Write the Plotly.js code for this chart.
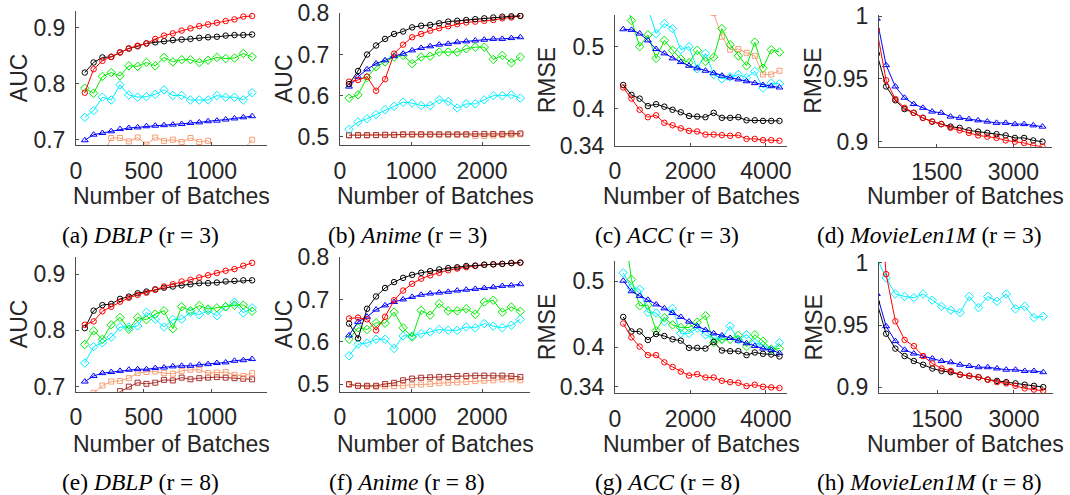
<!DOCTYPE html>
<html><head><meta charset="utf-8">
<script src="https://cdn.plot.ly/plotly-3.0.1.min.js"></script>
<style>html,body{margin:0;padding:0;background:#fff;}#chart{width:1070px;height:495px;}</style>
</head><body><div id="chart"></div>
<script>
// ---------- x values (number of batches) ----------
const xA = [65,130,195,260,325,390,455,520,585,650,715,780,845,910,975,1040,1105,1170,1235,1300];
const xB = [127,254,381,508,635,762,889,1016,1143,1270,1397,1524,1651,1778,1905,2032,2159,2286,2413,2540];
const xC = [218,436,654,872,1090,1308,1526,1744,1962,2180,2398,2616,2834,3052,3270,3488,3706,3924,4142,4360];
const xD = [329,509,689,869,1049,1229,1409,1589,1769,1949,2129,2309,2489,2669,2849,3029,3209,3389,3569];

// ---------- (a) DBLP r=3 ----------
const aRed    = [0.784,0.826,0.841,0.848,0.856,0.863,0.868,0.872,0.880,0.886,0.890,0.895,0.899,0.903,0.906,0.909,0.912,0.915,0.920,0.921];
const aBlack  = [0.820,0.838,0.847,0.848,0.856,0.863,0.867,0.872,0.874,0.876,0.878,0.879,0.880,0.882,0.883,0.884,0.886,0.887,0.887,0.888];
const aGreen  = [0.792,0.783,0.813,0.820,0.814,0.832,0.831,0.838,0.832,0.847,0.839,0.843,0.843,0.838,0.842,0.847,0.845,0.846,0.854,0.848];
const aCyan   = [0.740,0.752,0.776,0.771,0.798,0.780,0.776,0.777,0.781,0.789,0.779,0.779,0.771,0.771,0.771,0.779,0.776,0.776,0.771,0.784];
const aBlue   = [0.699,0.709,0.712,0.715,0.719,0.721,0.722,0.724,0.725,0.726,0.727,0.728,0.730,0.731,0.733,0.734,0.736,0.738,0.740,0.742];
const aOrange = [0.650,0.660,0.670,0.703,0.703,0.697,0.704,0.691,0.704,0.698,0.700,0.696,0.703,0.696,0.698,0.682,0.684,0.680,0.682,0.700];

// ---------- (b) Anime r=3 ----------
const bRed    = [0.634,0.638,0.646,0.612,0.640,0.702,0.724,0.742,0.750,0.758,0.764,0.769,0.774,0.778,0.780,0.782,0.784,0.788,0.790,0.794];
const bBlack  = [0.628,0.660,0.700,0.722,0.738,0.750,0.756,0.766,0.770,0.772,0.776,0.780,0.782,0.784,0.786,0.788,0.790,0.792,0.793,0.794];
const bGreen  = [0.594,0.602,0.644,0.670,0.682,0.694,0.698,0.678,0.694,0.696,0.706,0.706,0.706,0.714,0.718,0.718,0.688,0.698,0.680,0.694];
const bCyan   = [0.518,0.536,0.544,0.554,0.566,0.574,0.584,0.582,0.576,0.576,0.590,0.586,0.570,0.580,0.580,0.590,0.600,0.600,0.602,0.594];
const bBlue   = [0.622,0.646,0.664,0.678,0.686,0.696,0.702,0.710,0.716,0.720,0.724,0.726,0.730,0.732,0.734,0.736,0.738,0.738,0.740,0.742];
const bOrange = [0.503,0.503,0.503,0.504,0.504,0.504,0.505,0.505,0.505,0.505,0.505,0.505,0.505,0.505,0.502,0.502,0.503,0.504,0.505,0.506];
const bBrown  = [0.504,0.504,0.504,0.504,0.505,0.505,0.506,0.506,0.506,0.506,0.506,0.506,0.506,0.506,0.507,0.507,0.507,0.507,0.508,0.508];

// ---------- (c) ACC r=3 ----------
const cRed    = [0.434,0.416,0.398,0.386,0.389,0.377,0.373,0.368,0.364,0.363,0.358,0.358,0.357,0.356,0.357,0.351,0.351,0.349,0.349,0.348];
const cBlack  = [0.438,0.422,0.416,0.404,0.407,0.403,0.398,0.394,0.388,0.387,0.386,0.393,0.385,0.385,0.386,0.381,0.381,0.380,0.380,0.380];
const cGreen  = [0.587,0.542,0.500,0.519,0.481,0.510,0.494,0.480,0.474,0.494,0.476,0.483,0.529,0.503,0.485,0.469,0.507,0.465,0.495,0.491];
const cCyan   = [null,null,null,0.562,0.521,0.537,0.529,0.495,0.500,0.464,0.489,0.455,0.448,0.451,0.455,0.450,0.460,0.433,0.441,0.440];
const cBlue   = [0.528,0.527,0.521,0.510,0.496,0.489,0.481,0.475,0.469,0.465,0.461,0.457,0.453,0.450,0.447,0.444,0.441,0.438,0.436,0.434];
const cOrange = [null,null,null,null,null,null,null,null,null,null,null,0.554,0.516,0.495,0.496,0.490,0.485,0.455,0.455,0.461];

// ---------- (d) MovieLen1M r=3 ----------
const dRed    = [0.989,0.949,0.934,0.927,0.923,0.919,0.916,0.914,0.911,0.909,0.907,0.905,0.904,0.903,0.901,0.900,0.899,0.897,0.896];
const dBlack  = [0.970,0.944,0.933,0.926,0.923,0.919,0.916,0.914,0.912,0.911,0.909,0.908,0.907,0.906,0.905,0.903,0.903,0.901,0.900];
const dBlue   = [0.998,0.961,0.944,0.935,0.930,0.927,0.924,0.923,0.920,0.919,0.918,0.917,0.916,0.915,0.915,0.914,0.914,0.913,0.912];

// ---------- (e) DBLP r=8 ----------
const eRed    = [0.810,0.816,0.834,0.842,0.851,0.858,0.863,0.867,0.872,0.878,0.882,0.887,0.890,0.894,0.898,0.902,0.906,0.909,0.915,0.920];
const eBlack  = [0.804,0.835,0.845,0.847,0.856,0.860,0.866,0.869,0.873,0.876,0.878,0.880,0.882,0.884,0.884,0.885,0.887,0.888,0.889,0.889];
const eGreen  = [0.775,0.799,0.784,0.810,0.823,0.802,0.823,0.819,0.829,0.835,0.803,0.842,0.835,0.844,0.838,0.840,0.842,0.845,0.845,0.834];
const eCyan   = [0.742,0.771,0.778,0.788,0.806,0.806,0.808,0.832,0.820,0.806,0.819,0.820,0.832,0.828,0.835,0.826,0.842,0.850,0.831,0.840];
const eBlue   = [0.709,0.719,0.724,0.726,0.728,0.730,0.731,0.731,0.733,0.734,0.736,0.737,0.737,0.739,0.740,0.742,0.743,0.746,0.747,0.749];
const eOrange = [0.675,0.689,0.702,0.709,0.710,0.715,0.724,0.726,0.727,0.724,0.723,0.728,0.730,0.730,0.724,0.725,0.726,0.721,0.719,0.724];
const eBrown  = [0.660,0.670,0.675,0.683,0.692,0.700,0.707,0.705,0.707,0.712,0.711,0.716,0.713,0.715,0.716,0.717,0.716,0.715,0.714,0.713];

// ---------- (f) Anime r=8 ----------
const fRed    = [0.655,0.657,0.653,0.627,0.659,0.698,0.721,0.737,0.749,0.757,0.763,0.769,0.773,0.776,0.779,0.782,0.783,0.784,0.786,0.787];
const fBlack  = [0.643,0.608,0.678,0.707,0.727,0.741,0.751,0.758,0.763,0.767,0.771,0.774,0.776,0.779,0.780,0.782,0.783,0.784,0.786,0.787];
const fGreen  = [0.606,0.633,0.629,0.645,0.644,0.670,0.633,0.611,0.674,0.663,0.690,0.673,0.673,0.678,0.665,0.694,0.698,0.670,0.682,0.672];
const fCyan   = [0.567,0.594,0.597,0.606,0.606,0.584,0.614,0.614,0.619,0.623,0.629,0.627,0.627,0.635,0.633,0.643,0.637,0.633,0.639,0.653];
const fBlue   = [0.615,0.647,0.659,0.676,0.686,0.694,0.700,0.706,0.711,0.714,0.716,0.718,0.721,0.723,0.725,0.727,0.729,0.732,0.733,0.736];
const fOrange = [0.498,0.496,0.494,0.494,0.495,0.495,0.496,0.498,0.499,0.500,0.502,0.503,0.504,0.505,0.507,0.508,0.509,0.511,0.511,0.509];
const fBrown  = [0.500,0.496,0.496,0.496,0.500,0.503,0.509,0.513,0.515,0.516,0.517,0.517,0.519,0.519,0.520,0.520,0.520,0.520,0.519,0.517];

// ---------- (g) ACC r=8 ----------
const gRed    = [0.436,0.415,0.401,0.388,0.388,0.377,0.370,0.363,0.357,0.359,0.354,0.354,0.349,0.347,0.346,0.341,0.343,0.340,0.339,0.338];
const gBlack  = [0.446,0.424,0.424,0.411,0.420,0.417,0.412,0.410,0.399,0.399,0.398,0.408,0.395,0.394,0.394,0.388,0.392,0.390,0.389,0.386];
const gGreen  = [0.593,0.503,0.463,0.464,0.425,0.445,0.434,0.430,0.430,0.438,0.448,0.407,0.412,0.412,0.418,0.401,0.419,0.409,0.397,0.398];
const gCyan   = [0.513,0.490,0.488,0.453,0.452,0.439,0.459,0.421,0.421,0.429,0.419,0.414,0.413,0.432,0.411,0.419,0.407,0.403,0.396,0.407];
const gBlue   = [0.501,0.485,0.478,0.472,0.465,0.459,0.452,0.446,0.439,0.432,0.426,0.421,0.418,0.414,0.410,0.406,0.402,0.398,0.396,0.391];

// ---------- (h) MovieLen1M r=8 ----------
const hRed    = [1.080,0.991,0.953,0.938,0.933,0.925,0.919,0.915,0.913,0.910,0.909,0.908,0.906,0.904,0.903,0.901,0.899,0.898,0.897];
const hBlack  = [0.968,0.943,0.931,0.925,0.921,0.918,0.915,0.913,0.912,0.910,0.909,0.908,0.906,0.905,0.904,0.903,0.902,0.901,0.900];
const hCyan   = [1.004,0.988,0.975,0.973,0.972,0.975,0.970,0.965,0.962,0.960,0.973,0.964,0.973,0.969,0.975,0.963,0.965,0.956,0.957];
const hBlue   = [0.975,0.949,0.937,0.930,0.927,0.925,0.923,0.921,0.920,0.918,0.917,0.916,0.916,0.915,0.914,0.914,0.913,0.913,0.912];

// ---------- tick labels & captions ----------
const xtA = [0,500,1000], xtB = [0,1000,2000], xtC = [0,2000,4000], xtD = [1500,3000];
const ytA = [0.7,0.8,0.9], ytB = [0.5,0.6,0.7,0.8], ytC = [0.34,0.4,0.5], ytD = [0.9,0.95,1];
const ytTextA = ['0.7','0.8','0.9'], ytTextB = ['0.5','0.6','0.7','0.8'], ytTextC = ['0.34','0.4','0.5'], ytTextD = ['0.9','0.95','1'];
const captions = ['(a) <i>DBLP</i> (r = 3)','(b) <i>Anime</i> (r = 3)','(c) <i>ACC</i> (r = 3)','(d) <i>MovieLen1M</i> (r = 3)',
                  '(e) <i>DBLP</i> (r = 8)','(f) <i>Anime</i> (r = 8)','(g) <i>ACC</i> (r = 8)','(h) <i>MovieLen1M</i> (r = 8)'];
const yLabels = ['AUC','AUC','RMSE','RMSE','AUC','AUC','RMSE','RMSE'];
const xLabel = 'Number of Batches';

// ---------- styles ----------
const W = 1070, H = 495;
const ST = {
  red:    {c:'#ff0000', s:'circle-open', z:5.5},
  black:  {c:'#000000', s:'circle-open', z:5.5},
  green:  {c:'#00ee00', s:'diamond-open', z:6.5},
  cyan:   {c:'#00f0ff', s:'diamond-open', z:6.5},
  blue:   {c:'#0000ff', s:'triangle-up-open', z:6},
  orange: {c:'#f79f75', s:'square-open', z:5},
  brown:  {c:'#a8302c', s:'square-open', z:5}
};

const panels = [
  {x:xA, s:[['orange',aOrange],['blue',aBlue],['cyan',aCyan],['green',aGreen],['black',aBlack],['red',aRed]],
   box:[76,11,267,145.3], xr:[0,1410], yr:[0.69,0.93], xt:xtA, yt:ytA, ytt:ytTextA},
  {x:xB, s:[['orange',bOrange],['brown',bBrown],['cyan',bCyan],['green',bGreen],['blue',bBlue],['red',bRed],['black',bBlack]],
   box:[340,13,530,145], xr:[0,2676], yr:[0.48,0.801], xt:xtB, yt:ytB, ytt:ytTextB},
  {x:xC, s:[['orange',cOrange],['cyan',cCyan],['green',cGreen],['blue',cBlue],['black',cBlack],['red',cRed]],
   box:[615,15,787,145.7], xr:[0,4560], yr:[0.34,0.551], xt:xtC, yt:ytC, ytt:ytTextC},
  {x:xD, s:[['blue',dBlue],['black',dBlack],['red',dRed]],
   box:[879,15,1052,146.7], xr:[370,3755], yr:[0.896,1.001], xt:xtD, yt:ytD, ytt:ytTextD},
  {x:xA, s:[['brown',eBrown],['orange',eOrange],['blue',eBlue],['cyan',eCyan],['green',eGreen],['black',eBlack],['red',eRed]],
   box:[76,256.7,267,391.7], xr:[0,1410], yr:[0.691,0.931], xt:xtA, yt:ytA, ytt:ytTextA},
  {x:xB, s:[['orange',fOrange],['brown',fBrown],['cyan',fCyan],['green',fGreen],['blue',fBlue],['red',fRed],['black',fBlack]],
   box:[340,256.7,530,391.7], xr:[0,2676], yr:[0.482,0.801], xt:xtB, yt:ytB, ytt:ytTextB},
  {x:xC, s:[['cyan',gCyan],['green',gGreen],['blue',gBlue],['black',gBlack],['red',gRed]],
   box:[615,261,787,393.3], xr:[0,4560], yr:[0.33,0.531], xt:xtC, yt:ytC, ytt:ytTextC},
  {x:xD, s:[['cyan',hCyan],['blue',hBlue],['black',hBlack],['red',hRed]],
   box:[879,261.7,1053,393.3], xr:[370,3760], yr:[0.895,1.001], xt:xtD, yt:ytD, ytt:ytTextD}
];

const capX = [140,407,667,929];
const capY = [235,482];
const xlabY = [196,444];
const ylabX = [19,284,547,813];

const FONT = 'Liberation Sans, Arial, Helvetica, sans-serif';
const SERIF = 'Liberation Serif, Times New Roman, serif';
const TXT = '#262626';
const AXC = '#4d4d4d';
const FS = 23;

const traces = [];
const layout = {
  width:W, height:H, margin:{l:0,r:0,t:0,b:0},
  paper_bgcolor:'#fff', plot_bgcolor:'rgba(0,0,0,0)',
  showlegend:false, annotations:[], font:{family:FONT, color:TXT}
};

panels.forEach((p, i) => {
  const n = i + 1, sx = n === 1 ? '' : String(n);
  const [l, t, r, b] = p.box;
  p.s.forEach(([key, ys]) => {
    const st = ST[key];
    traces.push({
      type:'scatter', mode:'lines+markers', x:p.x, y:ys, xaxis:'x'+sx, yaxis:'y'+sx,
      connectgaps:false, cliponaxis:true,
      line:{color:st.c, width:1},
      marker:{symbol:st.s, size:st.z, color:st.c, line:{width:1, color:st.c}},
      hoverinfo:'skip'
    });
  });
  layout['xaxis'+sx] = {
    domain:[l/W, r/W], anchor:'y'+sx, range:p.xr, fixedrange:true,
    showgrid:false, zeroline:false, showline:true, linecolor:AXC, linewidth:1,
    ticks:'inside', ticklen:3, tickcolor:AXC, tickwidth:1,
    tickvals:p.xt, ticktext:p.xt.map(String), ticklabelstandoff:5, ticklabeloverflow:'allow',
    tickfont:{family:FONT, size:FS, color:TXT}
  };
  layout['yaxis'+sx] = {
    domain:[1 - b/H, 1 - t/H], anchor:'x'+sx, range:p.yr, fixedrange:true,
    showgrid:false, zeroline:false, showline:true, linecolor:AXC, linewidth:1,
    ticks:'inside', ticklen:3, tickcolor:AXC, tickwidth:1,
    tickvals:p.yt, ticktext:p.ytt, ticklabelstandoff:5, ticklabeloverflow:'allow',
    tickfont:{family:FONT, size:FS, color:TXT}
  };
  const row = i < 4 ? 0 : 1, col = i % 4;
  layout.annotations.push({
    xref:'paper', yref:'paper', x:(l + r) / 2 / W, y:1 - xlabY[row] / H,
    xanchor:'center', yanchor:'middle', showarrow:false, text:xLabel,
    font:{family:FONT, size:FS, color:TXT}
  });
  layout.annotations.push({
    xref:'paper', yref:'paper', x:ylabX[col] / W, y:1 - (t + b) / 2 / H,
    xanchor:'center', yanchor:'middle', showarrow:false, text:yLabels[i], textangle:-90,
    font:{family:FONT, size:FS, color:TXT}
  });
  layout.annotations.push({
    xref:'paper', yref:'paper', x:capX[col] / W, y:1 - capY[row] / H,
    xanchor:'center', yanchor:'middle', showarrow:false, text:captions[i],
    font:{family:SERIF, size:23.5, color:'#000'}
  });
});

Plotly.newPlot('chart', traces, layout, {staticPlot:true, displayModeBar:false});
</script></body></html>
